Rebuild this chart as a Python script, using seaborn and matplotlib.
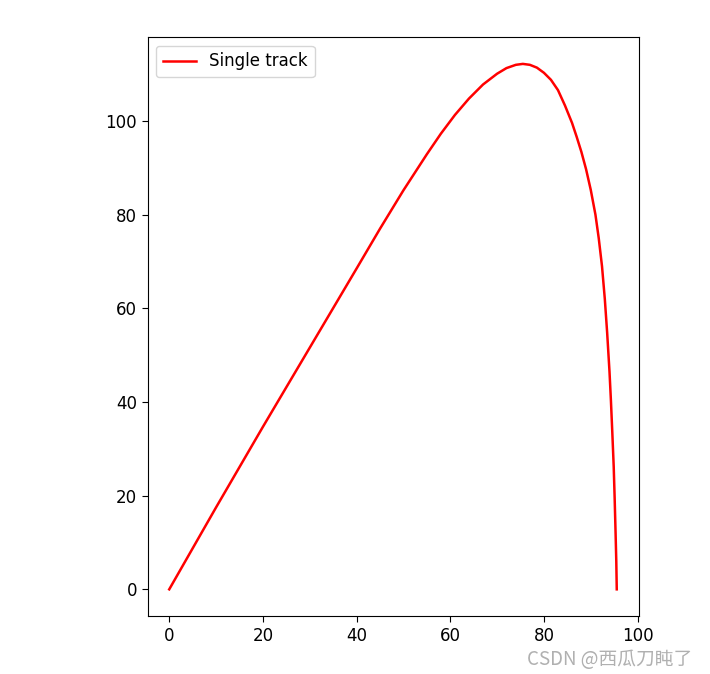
import seaborn as sns
import pandas as pd
import matplotlib.pyplot as plt

# trajectory points
x_pos = [0, 10, 20, 30, 40, 45, 50, 55, 58, 61, 64, 67, 70, 72, 74, 75.5,
         77, 78.5, 80, 81.5, 83, 84.5, 86, 87, 88, 89, 90, 91, 91.7, 92.4,
         93.0, 93.5, 94.0, 94.3, 94.6, 94.9, 95.1, 95.3, 95.45, 95.55]
y_pos = [0, 17.5, 34.7, 51.6, 68.5, 77.0, 85.2, 92.9, 97.3, 101.3, 104.8,
         107.8, 110.1, 111.3, 112.0, 112.2, 112.0, 111.4, 110.3, 108.8,
         106.6, 103.3, 99.6, 96.6, 93.4, 89.7, 85.3, 80.0, 75.0, 69.0,
         62.0, 54.8, 46.5, 40.4, 33.5, 26.2, 19.5, 12.0, 6.0, 0]

df = pd.DataFrame({"x": x_pos, "y": y_pos})

plt.rcParams["font.size"] = 12
plt.rcParams["xtick.major.size"] = 4.2
plt.rcParams["ytick.major.size"] = 4.2

fig = plt.figure(figsize=(7.1, 6.74), dpi=100)
ax = fig.add_axes([0.208, 0.086, 0.6924, 0.8586])

sns.lineplot(data=df, x="x", y="y", sort=False, estimator=None,
             color="red", linewidth=1.8, label="Single track", ax=ax)

ax.set_xlabel("")
ax.set_ylabel("")
ax.set_xlim(-4.6, 100.36)
ax.set_ylim(-5.7, 117.87)
ax.set_xticks([0, 20, 40, 60, 80, 100])
ax.set_yticks([0, 20, 40, 60, 80, 100])
ax.tick_params(labelsize=12)
ax.legend(loc="upper left", fontsize=12)

# watermark in the bottom-right corner
fig.text(0.742, 0.013, "CSDN @西瓜刀盹了", color="#b0b0b0", fontsize=13.5,
         family=["Noto Sans CJK SC", "DejaVu Sans"])

fig.savefig("out.png", dpi=100)
